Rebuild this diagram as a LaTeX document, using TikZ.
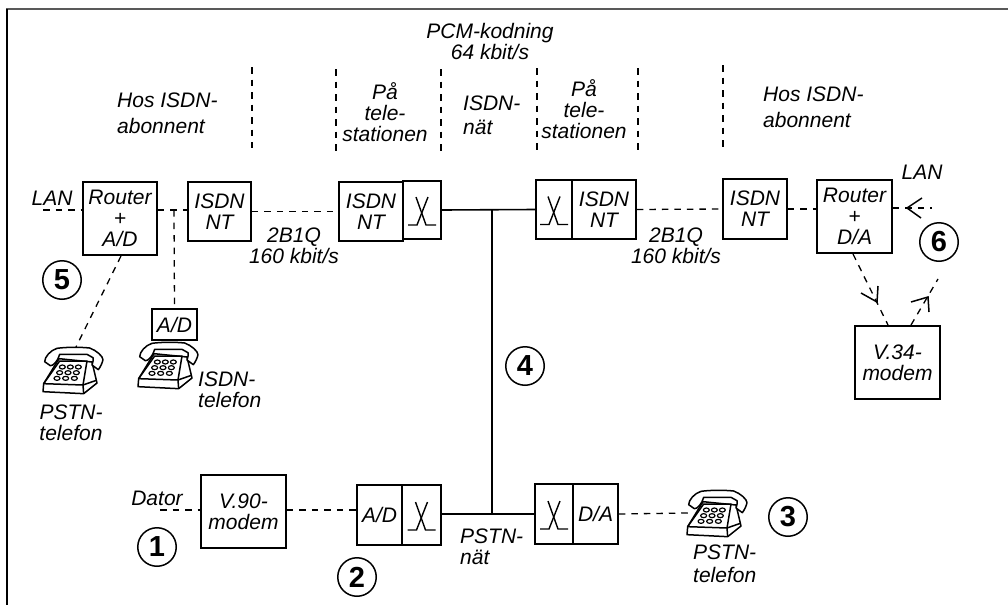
\documentclass[tikz,border=0pt]{standalone}
\usepackage{fontspec}
\setmainfont{Liberation Sans}
\tikzset{
  lbl/.style={font=\fontsize{21}{21}\selectfont\itshape, align=center, inner sep=0pt},
  lbll/.style={font=\fontsize{21}{21}\selectfont\itshape, align=left, inner sep=0pt, anchor=west},
  boxn/.style={draw=black, line width=1.5pt, fill=white, font=\fontsize{21}{21}\selectfont\itshape, align=center, inner sep=0pt, anchor=center},
  num/.style={draw=black, circle, line width=1.5pt, minimum size=38.5pt, inner sep=0pt, font=\fontsize{29}{29}\selectfont\bfseries},
  dsh/.style={line width=1.3pt, dash pattern=on 6.5pt off 6pt},
  solidl/.style={line width=1.6pt},
  barb/.style={line width=1.5pt},
  switchsym/.pic={
    \draw[line width=1.4pt] (-14,15) -- (-5,15) -- (6,-13);
    \draw[line width=1.4pt] (-6,-13) -- (4,15) -- (14,15);
  },
  phone/.pic={
    \begin{scope}[scale=1/3, line width=1.5pt, line join=round]
      % base
      \draw[fill=white] (2,110) -- (0,134) -- (122,140) -- (162,108) -- (147,45) -- (48,35) -- cycle;
      \draw[fill=white] (2,110) -- (50,42) -- (132,42) -- (120,114) -- cycle;
      \draw (120,114) -- (122,140);
      \draw (120,114) -- (160,100);
      % handset
      \draw[fill=white] (5,44) .. controls (5,30) and (22,10) .. (42,4)
        .. controls (70,0) and (112,0) .. (140,3)
        .. controls (160,10) and (180,28) .. (180,38)
        .. controls (178,48) and (172,60) .. (166,68)
        -- (147,54) .. controls (150,44) and (152,38) .. (150,32)
        -- (132,22) -- (50,22) .. controls (46,32) and (44,40) .. (38,46)
        .. controls (32,54) and (26,56) .. (22,56) -- cycle;
      \foreach \xx/\yy in {58/60,82/60,106/60,50/77,75/77,100/77,42/94,68/94,94/94}
        \draw[fill=white, line width=1.2pt] (\xx,\yy) ellipse [x radius=9, y radius=6];
    \end{scope}
  }
}
\begin{document}
\begin{tikzpicture}[x=1pt,y=-1pt]
\useasboundingbox (0,0) rectangle (1008,605);
% frame
\draw[line width=2pt, black!65] (6,9) -- (1008,9);
\draw[line width=1.2pt, black] (7,9) -- (7,605);

% coordinates for free ends
\coordinate (lanL) at (43,210);
\coordinate (lanR) at (932,208);
\coordinate (datorL) at (160,510);
\coordinate (modUp) at (938,279);
\coordinate (jc1) at (174,210);
\coordinate (t1) at (492,209);
\coordinate (t2) at (492,514);

% vertical separators
\foreach \n/\x/\a/\b in {a/252/67/148,b/336/69/152,c/441/69/152,d/537/68/150,e/638/68/150,f/723/65/147}{
  \coordinate (s\n t) at (\x,\a);
  \coordinate (s\n b) at (\x,\b);
  \draw[dsh] (s\n t) -- (s\n b);
}

% top labels
\node[lbl] (pcm) at (490,41) {PCM-kodning\\64 kbit/s};
\node[lbll] (hos1) at (117,113) {Hos ISDN-\\[5pt]abonnent};
\node[lbll] (hos2) at (763,107) {Hos ISDN-\\[5pt]abonnent};
\node[lbl] (paa1) at (385,112) {På\\tele-\\stationen};
\node[lbl] (paa2) at (584,109) {På\\tele-\\stationen};
\node[lbll] (natt) at (463,115) {ISDN-\\[3pt]nät};

% boxes
\node[boxn, minimum width=74pt, minimum height=73pt] (r1) at (120,218.5) {Router\\+\\A/D};
\node[boxn, minimum width=63pt, minimum height=59pt] (nt1) at (219.5,211.5) {ISDN\\NT};
\node[boxn, minimum width=64pt, minimum height=59pt] (nt2) at (371,211.5) {ISDN\\NT};
\node[boxn, minimum width=38pt, minimum height=58pt] (sw1) at (422,210) {};
\node[boxn, minimum width=36pt, minimum height=59pt] (sw2) at (554,209.5) {};
\node[boxn, minimum width=64pt, minimum height=59pt] (nt3) at (604,209.5) {ISDN\\NT};
\node[boxn, minimum width=64pt, minimum height=60pt] (nt4) at (755,209) {ISDN\\NT};
\node[boxn, minimum width=75pt, minimum height=73pt] (r2) at (854.5,216.5) {Router\\+\\D/A};
\node[boxn, minimum width=85pt, minimum height=73pt] (m34) at (897.5,362.5) {V.34-\\modem};
\node[boxn, minimum width=45pt, minimum height=31pt] (ad1) at (174.5,324.5) {A/D};
\node[boxn, minimum width=85pt, minimum height=73pt] (m90) at (243.5,511.5) {V.90-\\modem};
\node[boxn, minimum width=45pt, minimum height=60pt] (ad2) at (379.5,515) {A/D};
\node[boxn, minimum width=39pt, minimum height=60pt] (sw3) at (421.5,515) {};
\node[boxn, minimum width=38pt, minimum height=60pt] (sw4) at (554,514) {};
\node[boxn, minimum width=45pt, minimum height=60pt] (da) at (595.5,514) {D/A};

\pic at (sw1) {switchsym};
\pic at (sw2) {switchsym};
\pic at (sw3) {switchsym};
\pic at (sw4) {switchsym};

% phones
\pic at (43,347) {phone};
\pic at (138,342) {phone};
\pic at (687,490) {phone};
\coordinate (ph5) at (76,347);
\coordinate (ph3) at (688,513);

% solid lines
\draw[solidl] (sw1.east) -- (sw2.west);
\draw[solidl] (sw3.east |- t2) -- (sw4.west |- t2);
\draw[solidl] (t1) -- (t2);

% dashed connectors
\draw[dsh] (lanL) -- (r1.west |- lanL);
\draw[dsh] (r1.east |- jc1) -- (nt1.west |- jc1);
\draw[dsh] (jc1) -- (ad1.north);
\draw[dsh] (nt1.east) -- (nt2.west);
\draw[dsh] (nt3.east) -- (nt4.west);
\draw[dsh] (nt4.east) -- (r2.west |- nt4.east);
\draw[dsh] (r2.east |- lanR) -- (lanR);
\draw[dsh] (datorL) -- (m90.west |- datorL);
\draw[dsh] (m90.east |- datorL) -- (ad2.west |- datorL);
\draw[dsh] (da.east) -- (ph3);
\coordinate (r1b) at (121,256);
\draw[dsh] (r1b) -- (ph5);
\coordinate (r2b) at (853,254);
\coordinate (m34a) at (888,325);
\coordinate (m34b) at (911,325);
\draw[dsh] (r2b) -- (m34a);
\draw[dsh] (m34b) -- (modUp);

% arrowheads
\coordinate (a1) at (907,208); \coordinate (a1p) at (922,198); \coordinate (a1q) at (921,218);
\draw[barb] (a1p) -- (a1) -- (a1q);
\coordinate (a2) at (877,302); \coordinate (a2p) at (861,293); \coordinate (a2q) at (878,286);
\draw[barb] (a2p) -- (a2) -- (a2q);
\coordinate (a3) at (928,297); \coordinate (a3p) at (911,302); \coordinate (a3q) at (929,312);
\draw[barb] (a3p) -- (a3) -- (a3q);

% other labels
\node[lbl] (lan1) at (52,198) {LAN};
\node[lbl] (lan2) at (922,172) {LAN};
\node[lbl] (dator) at (157,498) {Dator};
\node[lbl] (tel5) at (71,423) {PSTN-\\telefon};
\node[lbll] (tel4) at (198,390) {ISDN-\\telefon};
\node[lbll] (tel3) at (693,564) {PSTN-\\[2pt]telefon};
\node[lbl] (b2a) at (294,246) {2B1Q\\160 kbit/s};
\node[lbl] (b2b) at (676,246) {2B1Q\\160 kbit/s};
\node[lbll] (pn) at (460,547) {PSTN-\\nät};

% numbers
\node[num] (n1) at (157,547) {1};
\node[num] (n2) at (357,577) {2};
\node[num] (n3) at (788,517) {3};
\node[num] (n4) at (525,366) {4};
\node[num] (n5) at (62,280) {5};
\node[num] (n6) at (939,242) {6};
\end{tikzpicture}
\end{document}
